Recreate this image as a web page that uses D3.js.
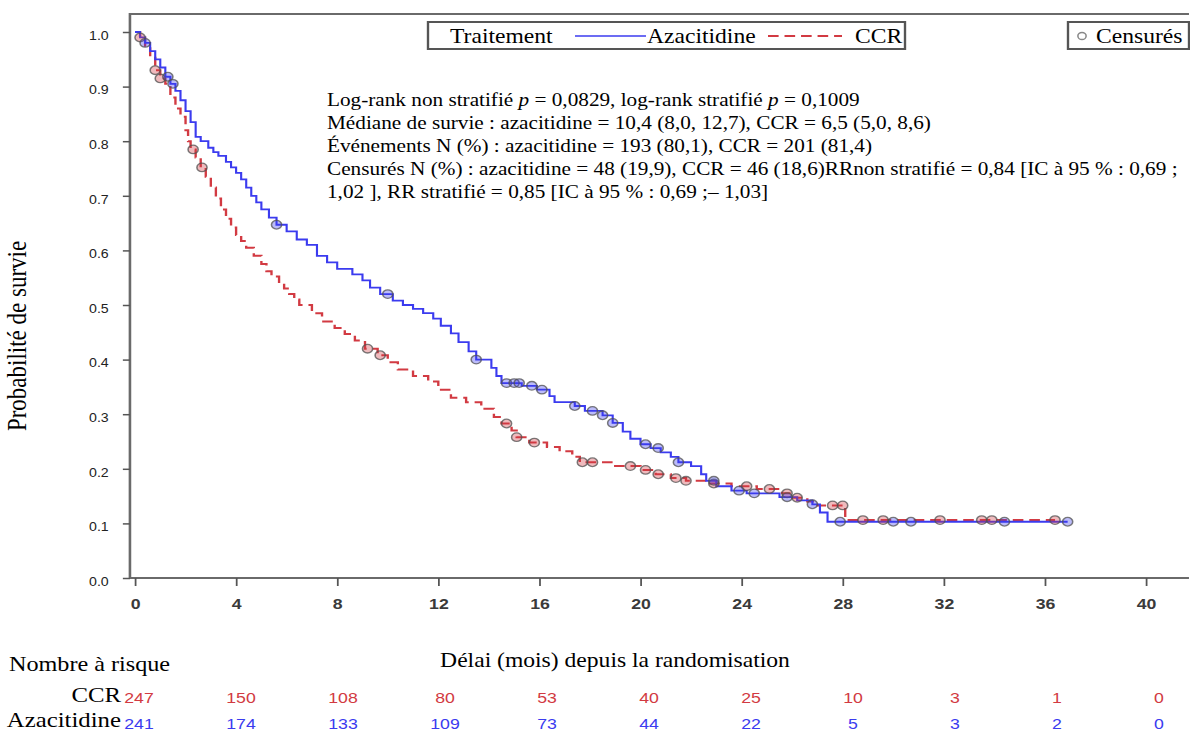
<!DOCTYPE html>
<html>
<head>
<meta charset="utf-8">
<script src="https://cdn.jsdelivr.net/npm/d3@7"></script>
<style>
    body { margin: 0; background: #fff; }
    svg { display: block; }
    .serif { font-family: "Liberation Serif", "Times New Roman", serif; fill: #000; }
    .sans { font-family: "Liberation Sans", Arial, sans-serif; }
</style>
</head>
<body>
<div id="chart"></div>
<script>
// ---- data ----
const monthTicks = [0, 4, 8, 12, 16, 20, 24, 28, 32, 36, 40];
const survTicks = [0, 0.1, 0.2, 0.3, 0.4, 0.5, 0.6, 0.7, 0.8, 0.9, 1.0];

// Azacitidine: step starts (months) and survival after each step
const azaTime = [0, 0.2, 0.4, 0.6, 0.8, 1.0, 1.2, 1.4, 1.6, 1.8, 2.0, 2.2, 2.4, 2.6, 2.9, 3.1, 3.3, 3.6, 3.8,
    4.0, 4.2, 4.4, 4.6, 4.8, 5.0, 5.3, 5.6,
    6.0, 6.4, 6.8, 7.2, 7.6, 8.0, 8.6, 9.0, 9.3, 9.7, 10.2, 10.6, 11.0, 11.4, 11.8, 12.1, 12.5, 12.8,
    13.2, 13.5, 14.1, 14.3, 14.5, 15.3, 15.9, 16.4, 16.6, 17.4, 17.8, 18.5, 18.9, 19.3, 19.6, 20.0,
    20.4, 20.8, 21.2, 21.5, 22.0, 22.4, 22.6, 23.0, 23.6, 24.2, 25.5, 26.2, 26.8, 27.1, 27.4];
const azaSurv = [1.0, 0.99, 0.98, 0.965, 0.95, 0.935, 0.918, 0.905, 0.892, 0.875, 0.855, 0.835, 0.808, 0.80, 0.788, 0.78, 0.773, 0.762, 0.752,
    0.742, 0.73, 0.715, 0.70, 0.688, 0.675, 0.66, 0.647,
    0.635, 0.62, 0.61, 0.59, 0.578, 0.566, 0.556, 0.545, 0.532, 0.52, 0.508, 0.50, 0.493, 0.485, 0.475, 0.462, 0.448, 0.432,
    0.415, 0.40, 0.385, 0.37, 0.357, 0.352, 0.345, 0.333, 0.322, 0.315, 0.306, 0.298, 0.284, 0.268, 0.255, 0.245,
    0.238, 0.23, 0.222, 0.212, 0.205, 0.19, 0.178, 0.168, 0.16, 0.155, 0.148, 0.142, 0.135, 0.12, 0.103];
const azaEnd = 36.9;
const azaCensored = [0.4, 1.3, 1.5, 5.6, 10.0, 13.5, 14.7, 15.0, 15.2, 15.7, 16.1, 17.4, 18.1, 18.5, 18.9,
    20.2, 20.7, 21.5, 22.9, 23.9, 24.5, 25.8, 26.8, 27.9, 30.0, 30.7, 34.4, 36.9];

// CCR
const ccrTime = [0, 0.2, 0.4, 0.6, 0.8, 1.0, 1.2, 1.4, 1.6, 1.8, 2.0, 2.1, 2.2, 2.4, 2.6, 2.8, 3.0, 3.2, 3.4,
    3.6, 3.8, 4.0, 4.2, 4.4, 4.7, 5.0, 5.2, 5.4, 5.7, 5.9, 6.1, 6.3, 6.5,
    7.0, 7.4, 7.9, 8.3, 8.7, 9.1, 9.6, 10.0, 10.4, 11.0, 11.6, 12.0, 12.5, 13.1, 13.7,
    14.2, 14.5, 14.9, 15.1, 15.6, 16.3, 16.8, 17.3, 17.6, 19.0, 20.0, 20.6, 21.2, 21.8, 22.6, 23.6,
    24.6, 25.6, 26.0, 26.6, 27.0, 28.1];
const ccrSurv = [1.0, 0.99, 0.975, 0.955, 0.93, 0.915, 0.905, 0.88, 0.86, 0.845, 0.82, 0.80, 0.785, 0.77, 0.752, 0.735, 0.715, 0.695, 0.675,
    0.658, 0.642, 0.628, 0.617, 0.605, 0.59, 0.575, 0.562, 0.552, 0.54, 0.53, 0.52, 0.51, 0.50,
    0.485, 0.47, 0.458, 0.447, 0.435, 0.42, 0.408, 0.395, 0.382, 0.37, 0.36, 0.345, 0.33, 0.322, 0.31,
    0.295, 0.283, 0.27, 0.258, 0.248, 0.24, 0.232, 0.222, 0.212, 0.205, 0.198, 0.19, 0.183, 0.178, 0.173, 0.168,
    0.163, 0.155, 0.147, 0.14, 0.133, 0.106];
const ccrEnd = 36.4;
const ccrCensored = [0.2, 0.8, 1.0, 2.3, 2.65, 9.2, 9.7, 14.7, 15.1, 15.8, 17.7, 18.1, 19.6, 20.2, 20.7, 21.4, 21.8,
    22.9, 24.2, 25.1, 25.8, 26.2, 27.6, 28.0, 28.8, 29.6, 31.85, 33.5, 33.9, 36.4];

const riskCCR = [247, 150, 108, 80, 53, 40, 25, 10, 3, 1, 0];
const riskAza = [241, 174, 133, 109, 73, 44, 22, 5, 3, 2, 0];

const annotationLines = [
    [['Log-rank non stratifié ', false], ['p', true], [' = 0,0829, log-rank stratifié ', false], ['p', true], [' = 0,1009', false]],
    [['Médiane de survie : azacitidine = 10,4 (8,0, 12,7), CCR = 6,5 (5,0, 8,6)', false]],
    [['Événements N (%) : azacitidine = 193 (80,1), CCR = 201 (81,4)', false]],
    [['Censurés N (%) : azacitidine = 48 (19,9), CCR = 46 (18,6)RRnon stratifié = 0,84 [IC à 95 % : 0,69 ;', false]],
    [['1,02 ], RR stratifié = 0,85 [IC à 95 % : 0,69 ;– 1,03]', false]]
];

const AZA_COLOR = '#3b3bef';
const CCR_COLOR = '#d23a42';

// the reference is stretched horizontally; draw in narrower units and widen
const S = 1.18;
const W = 1190, H = 734;

const svg = d3.select('#chart')
    .append('svg')
    .attr('width', W)
    .attr('height', H);

const root = svg.append('g').attr('transform', `scale(${S},1)`);

// Scales (range given in screen px, divided by the stretch)
const x = d3.scaleLinear().domain([0, 40]).range([135 / S, 1146 / S]);
const y = d3.scaleLinear().domain([0, 1]).range([578, 32]);
const riskX = d3.scaleLinear().domain([0, 40]).range([139 / S, 1159 / S]);

// Frame: top, left, bottom
const fx0 = x(-0.2), fx1 = x(41.7), fy0 = y(1.033), fy1 = y(0);
root.append('path')
    .attr('d', `M${fx1},${fy0}H${fx0}V${fy1}H${fx1}`)
    .attr('fill', 'none')
    .attr('stroke', '#6a6a6a')
    .attr('stroke-width', 2.2);

// Y axis
const yAxis = root.append('g')
    .attr('transform', `translate(${fx0},0)`)
    .call(d3.axisLeft(y).tickValues(survTicks).tickFormat(d3.format('.1f')).tickSize(6).tickPadding(12));
yAxis.select('.domain').remove();
yAxis.selectAll('line').attr('stroke', '#555').attr('stroke-width', 1.5);
yAxis.selectAll('text')
    .attr('class', 'sans')
    .attr('dy', '0.6em')
    .style('font-size', '12px')
    .attr('fill', '#222');

// X axis
const xAxis = root.append('g')
    .attr('transform', `translate(0,${fy1})`)
    .call(d3.axisBottom(x).tickValues(monthTicks).tickSize(8).tickPadding(12));
xAxis.select('.domain').remove();
xAxis.selectAll('line').attr('stroke', '#555').attr('stroke-width', 1.5);
xAxis.selectAll('text')
    .attr('class', 'sans')
    .style('font-size', '15px')
    .style('font-weight', 'bold')
    .attr('fill', '#3a3a3a');

// Curves
const stepFn = (times, surv) => t => {
    let i = d3.bisectRight(times, t) - 1;
    return surv[Math.max(0, i)];
};
const line = d3.line()
    .x(d => x(d[0]))
    .y(d => y(d[1]))
    .curve(d3.curveStepAfter);

const ccrPts = ccrTime.map((t, i) => [t, ccrSurv[i]]).concat([[ccrEnd, ccrSurv[ccrSurv.length - 1]]]);
const azaPts = azaTime.map((t, i) => [t, azaSurv[i]]).concat([[azaEnd, azaSurv[azaSurv.length - 1]]]);

root.append('path')
    .datum(ccrPts)
    .attr('d', line)
    .attr('fill', 'none')
    .attr('stroke', CCR_COLOR)
    .attr('stroke-width', 2)
    .attr('stroke-dasharray', '9,5');

root.append('path')
    .datum(azaPts)
    .attr('d', line)
    .attr('fill', 'none')
    .attr('stroke', AZA_COLOR)
    .attr('stroke-width', 1.8);

// Censored marks
const ccrAt = stepFn(ccrTime, ccrSurv);
const azaAt = stepFn(azaTime, azaSurv);
const marks = ccrCensored.map(t => ({ t, s: ccrAt(t), c: CCR_COLOR }))
    .concat(azaCensored.map(t => ({ t, s: azaAt(t), c: AZA_COLOR })));

root.selectAll('.censor')
    .data(marks)
    .enter()
    .append('circle')
    .attr('class', 'censor')
    .attr('cx', d => x(d.t))
    .attr('cy', d => y(d.s))
    .attr('r', 4.3)
    .attr('fill', d => d.c)
    .attr('fill-opacity', 0.35)
    .attr('stroke', '#505050')
    .attr('stroke-opacity', 0.75)
    .attr('stroke-width', 1.3);

// Legend
const leg = root.append('g');
leg.append('rect')
    .attr('x', 428 / S).attr('y', 22)
    .attr('width', (905 - 428) / S).attr('height', 27)
    .attr('fill', '#fff').attr('stroke', '#555').attr('stroke-width', 2);
leg.append('text').attr('class', 'serif').attr('x', 450 / S).attr('y', 43)
    .style('font-size', '20px').text('Traitement');
leg.append('line')
    .attr('x1', 575 / S).attr('x2', 646 / S).attr('y1', 36).attr('y2', 36)
    .attr('stroke', AZA_COLOR).attr('stroke-width', 1.5);
leg.append('text').attr('class', 'serif').attr('x', 647 / S).attr('y', 43)
    .style('font-size', '20px').text('Azacitidine');
leg.append('line')
    .attr('x1', 768 / S).attr('x2', 842 / S).attr('y1', 36).attr('y2', 36)
    .attr('stroke', CCR_COLOR).attr('stroke-width', 1.8).attr('stroke-dasharray', '9,5');
leg.append('text').attr('class', 'serif').attr('x', 855 / S).attr('y', 43)
    .style('font-size', '20px').text('CCR');

leg.append('rect')
    .attr('x', 1068 / S).attr('y', 22)
    .attr('width', (1189 - 1068) / S).attr('height', 27)
    .attr('fill', '#fff').attr('stroke', '#555').attr('stroke-width', 2);
leg.append('circle')
    .attr('cx', 1082 / S).attr('cy', 36).attr('r', 3.5)
    .attr('fill', 'none').attr('stroke', '#888').attr('stroke-width', 1.3);
leg.append('text').attr('class', 'serif').attr('x', 1096 / S).attr('y', 43)
    .style('font-size', '20px').text('Censurés');

// Statistics annotation
const ann = root.append('text')
    .attr('class', 'serif')
    .attr('x', 327 / S)
    .attr('y', 106)
    .style('font-size', '18px');
annotationLines.forEach((parts, i) => {
    parts.forEach((p, j) => {
        const ts = ann.append('tspan').text(p[0]);
        if (j === 0) ts.attr('x', 327 / S).attr('y', 106 + i * 23);
        if (p[1]) ts.style('font-style', 'italic');
    });
});

// Axis titles
root.append('text')
    .attr('class', 'serif')
    .attr('transform', `translate(${26 / S},${336}) rotate(-90)`)
    .attr('text-anchor', 'middle')
    .style('font-size', '23px')
    .text('Probabilité de survie');

root.append('text')
    .attr('class', 'serif')
    .attr('x', 615 / S)
    .attr('y', 667)
    .attr('text-anchor', 'middle')
    .style('font-size', '20px')
    .text('Délai (mois) depuis la randomisation');

// Number at risk table
root.append('text')
    .attr('class', 'serif')
    .attr('x', 9 / S).attr('y', 671)
    .style('font-size', '20.5px')
    .text('Nombre à risque');
root.append('text')
    .attr('class', 'serif')
    .attr('x', 121 / S).attr('y', 702)
    .attr('text-anchor', 'end')
    .style('font-size', '21px')
    .text('CCR');
root.append('text')
    .attr('class', 'serif')
    .attr('x', 121 / S).attr('y', 727)
    .attr('text-anchor', 'end')
    .style('font-size', '21px')
    .text('Azacitidine');

root.selectAll('.risk-ccr')
    .data(riskCCR)
    .enter()
    .append('text')
    .attr('class', 'sans risk-ccr')
    .attr('x', (d, i) => riskX(monthTicks[i]))
    .attr('y', 703)
    .attr('text-anchor', 'middle')
    .style('font-size', '15px')
    .attr('fill', CCR_COLOR)
    .text(d => d);

root.selectAll('.risk-aza')
    .data(riskAza)
    .enter()
    .append('text')
    .attr('class', 'sans risk-aza')
    .attr('x', (d, i) => riskX(monthTicks[i]))
    .attr('y', 729)
    .attr('text-anchor', 'middle')
    .style('font-size', '15px')
    .attr('fill', AZA_COLOR)
    .text(d => d);
</script>
</body>
</html>
